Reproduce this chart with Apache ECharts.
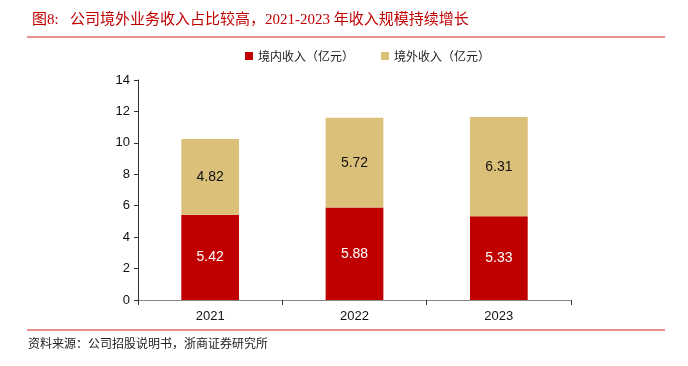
<!DOCTYPE html>
<html>
<head>
<meta charset="utf-8">
<script src="https://cdn.jsdelivr.net/npm/echarts@6/dist/echarts.min.js"></script>
<style>
  html, body { margin: 0; padding: 0; background: #fff; }
  #main { width: 688px; height: 366px; }
</style>
</head>
<body>
<div id="main"></div>
<script>
// 数据
var years = ['2021', '2022', '2023'];
var domestic = [5.42, 5.88, 5.33];   // 境内收入（亿元）
var overseas = [4.82, 5.72, 6.31];   // 境外收入（亿元）
var seriesNames = ['境内收入（亿元）', '境外收入（亿元）'];

var chart = echarts.init(document.getElementById('main'));
var cjk = '"Noto Sans CJK SC", sans-serif';
var serifMix = '"Liberation Serif", "Noto Sans CJK SC", serif';
var latin = '"Liberation Sans", Arial, sans-serif';

var option = {
  animation: false,
  color: ['#C00000', '#DBC07A'],
  title: {
    text: '图8:   公司境外业务收入占比较高，2021-2023 年收入规模持续增长',
    left: 27,
    top: 8,
    textStyle: { color: '#C00000', fontSize: 15, fontWeight: 'normal', fontFamily: serifMix }
  },
  legend: {
    data: seriesNames,
    top: 45,
    left: 240,
    itemWidth: 8,
    itemHeight: 8,
    itemGap: 27,
    icon: 'rect',
    textStyle: { fontSize: 12, color: '#222', fontFamily: cjk }
  },
  grid: { left: 138, right: 117, top: 80, bottom: 66 },
  xAxis: {
    type: 'category',
    data: years,
    axisLine: { lineStyle: { color: '#888', width: 1 } },
    axisTick: { show: true, alignWithLabel: false, lineStyle: { color: '#333' } },
    axisLabel: { color: '#111', fontSize: 13, fontFamily: latin, margin: 10 }
  },
  yAxis: {
    type: 'value',
    min: 0,
    max: 14,
    interval: 2,
    splitLine: { show: false },
    axisLine: { show: true, lineStyle: { color: '#333' } },
    axisTick: { show: true, length: 4, lineStyle: { color: '#333' } },
    axisLabel: { color: '#111', fontSize: 13, fontFamily: latin, margin: 8 }
  },
  series: [
    {
      name: seriesNames[0],
      type: 'bar',
      stack: 'total',
      barWidth: '40%',
      data: domestic,
      label: { show: true, position: 'inside', color: '#fff', fontSize: 14, fontFamily: latin }
    },
    {
      name: seriesNames[1],
      type: 'bar',
      stack: 'total',
      barWidth: '40%',
      data: overseas,
      label: { show: true, position: 'inside', color: '#111', fontSize: 14, fontFamily: latin }
    }
  ],
  graphic: [
    { type: 'line', shape: { x1: 27, y1: 37, x2: 665, y2: 37 }, style: { stroke: '#D02020', lineWidth: 1 } },
    { type: 'line', shape: { x1: 27, y1: 330, x2: 665, y2: 330 }, style: { stroke: '#D02020', lineWidth: 1 } },
    {
      type: 'text', left: 28, top: 337,
      style: { text: '资料来源：公司招股说明书，浙商证券研究所', fill: '#222', fontSize: 12, fontFamily: cjk }
    }
  ]
};
chart.setOption(option);
</script>
</body>
</html>
